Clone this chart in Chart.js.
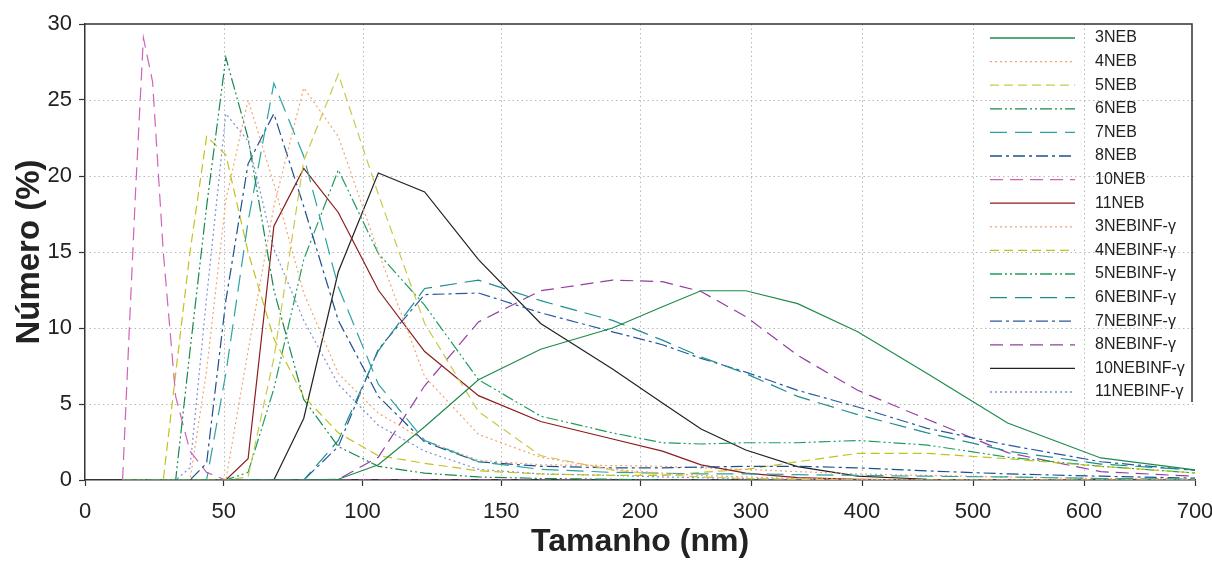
<!DOCTYPE html>
<html>
<head>
<meta charset="utf-8">
<script src="https://cdn.jsdelivr.net/npm/chart.js@4.4.0/dist/chart.umd.min.js"></script>
<style>
  html, body { margin: 0; padding: 0; background: #fff; }
  #wrap { width: 1212px; height: 563px; }
</style>
</head>
<body>
<div id="wrap"><canvas id="chart"></canvas></div>
<script>
// tamanhos das classes (nm)
const sizes = [13.54, 15.69, 18.17, 21.04, 24.36, 28.21, 32.67, 37.84, 43.82, 50.75, 58.77, 68.06, 78.82, 91.28,
  105.7, 122.4, 141.8, 164.2, 190.1, 220.2, 255.0, 295.3, 342.0, 396.1, 458.7, 531.2, 615.1, 712.4];

const neb3  = [0,0,0,0,0,0,0,0,0,0,0,0,0,0.05, 1.0,3.5,6.6,8.6,10.0,11.4,12.45,12.45,11.6,9.75,7.0,3.75,1.45,0.55];
const neb4  = [0,0,0,0,0,0,0,0,0,0, 8.5,18,25.8,22.6,15,6.8,3.0,1.5,0.7,0.45,0.3,0.2,0.1,0.05,0,0,0,0];
const neb5  = [0,0,0,0,0,0,0,0,0,0, 0.2,8,21,26.7,18.8,10.3,4.5,1.6,0.65,0.35,0.2,0.1,0.05,0,0,0,0,0];
const neb6  = [0,0,0,0,0,0,0, 8.5,18,27.8,22.5,12.5,5.3,2.2,0.9,0.45,0.2,0.1,0.05,0,0,0,0,0,0,0,0,0];
const neb7  = [0,0,0,0,0,0,0,0,0, 7,17,26.1,21.3,12.7,6.3,2.6,1.2,0.7,0.5,0.45,0.4,0.4,0.35,0.3,0.25,0.2,0.1,0.05];
const neb8  = [0,0,0,0,0,0,0,0, 1.1,11.8,20.8,24.1,18,10.5,5.5,2.5,1.2,0.9,0.8,0.8,0.85,0.9,0.9,0.8,0.6,0.4,0.25,0.1];
const neb10 = [0, 8.8,18.8,29.1,26.2,15,5.5,1.9,0.5,0,0,0,0,0,0,0,0,0,0,0,0,0,0,0,0,0,0,0];
const neb11 = [0,0,0,0,0,0,0,0,0,0, 1.4,16.7,20.5,17.6,12.5,8.45,5.55,3.85,2.7,1.9,1.0,0.45,0.15,0.05,0,0,0,0];
const inf3  = [0,0,0,0,0,0,0,0, 7.2,18.4,25,19.5,12.3,7.0,4.4,2.6,1.3,1.0,0.95,0.9,0.8,0.7,0.55,0.4,0.3,0.2,0.1,0.05];
const inf4  = [0,0,0,0,0,0, 7,15,22.6,21.4,15,9.3,5.5,3.1,1.6,1.1,0.6,0.4,0.3,0.3,0.5,0.7,1.2,1.75,1.75,1.4,0.9,0.4];
const inf5  = [0,0,0,0,0,0,0,0,0,0, 0.5,6,14.5,20.4,14.9,11.5,6.6,4.2,3.1,2.45,2.37,2.45,2.45,2.6,2.3,1.5,0.9,0.4];
const inf6  = [0,0,0,0,0,0,0,0,0,0,0,0,0, 2.6,8.5,12.6,13.15,11.8,10.5,9.2,8.1,7.0,5.5,4.3,3.1,1.9,1.05,0.6];
const inf7  = [0,0,0,0,0,0,0,0,0,0,0,0,0, 2.2,8.6,12.2,12.3,11.0,9.75,8.9,8.0,7.1,5.9,4.8,3.4,2.3,1.2,0.55];
const inf8  = [0,0,0,0,0,0,0,0,0,0,0,0,0, 0.05,1.5,6.2,10.4,12.45,13.15,13.05,12.4,10.75,8.2,5.9,4.0,1.8,0.55,0.2];
const inf10 = [0,0,0,0,0,0,0,0,0,0,0,0, 4.05,13.7,20.2,18.95,14.5,10.3,7.3,5.07,3.35,1.97,0.88,0.26,0.05,0,0,0];
const inf11 = [0,0,0,0,0,0,0, 0.8,12,24.1,22.3,15.2,10.5,6.3,3.6,1.9,0.7,0.4,0.3,0.2,0.15,0.1,0.05,0,0,0,0,0];

const labels = ['3NEB','4NEB','5NEB','6NEB','7NEB','8NEB','10NEB','11NEB',
  '3NEBINF-γ','4NEBINF-γ','5NEBINF-γ','6NEBINF-γ','7NEBINF-γ','8NEBINF-γ','10NEBINF-γ','11NEBINF-γ'];
const values = [neb3, neb4, neb5, neb6, neb7, neb8, neb10, neb11, inf3, inf4, inf5, inf6, inf7, inf8, inf10, inf11];

const xTicks = [0, 50, 100, 150, 200, 300, 400, 500, 600, 700];
const yTicks = [0, 5, 10, 15, 20, 25, 30];

// estilos de linha
const colors = ['#1e8b4c','#f5a36c','#c9c94a','#17894d','#2ba3a3','#1f4f8f','#d062b8','#8b1c1c',
  '#f5a36c','#c2c21e','#1f9d5c','#1d8e8e','#2a58a0','#913fa0','#222222','#7d8fd8'];
const dashes = [[], [2,3], [9,5], [12,3,2,3,2,3], [17,8], [12,4,3,4], [13,7], [],
  [2,3], [9,5], [12,3,2,3,2,3], [17,8], [12,4,3,4], [13,7], [], [2,3]];

// eixo x: 0-200 na primeira metade, 200-700 na segunda
function splitFrac(v) {
  return v <= 200 ? v / 400 : 0.5 + (v - 200) / 1000;
}

class SplitScale extends Chart.LinearScale {
  buildTicks() {
    this.start = this.min;
    this.end = this.max;
    return xTicks.map(v => ({ value: v }));
  }
  getPixelForValue(value) {
    if (value === null || isNaN(value)) return NaN;
    return this.getPixelForDecimal(splitFrac(value));
  }
  getValueForPixel(pixel) {
    const d = this.getDecimalForPixel(pixel);
    return d <= 0.5 ? d * 400 : 200 + (d - 0.5) * 1000;
  }
}
SplitScale.id = 'split';
SplitScale.defaults = Chart.LinearScale.defaults;
Chart.register(SplitScale);

const font = "'Liberation Sans', Arial, sans-serif";

const datasets = labels.map((name, i) => ({
  label: name,
  data: sizes.map((s, j) => ({ x: s, y: values[i][j] })),
  borderColor: colors[i],
  borderDash: dashes[i],
  borderWidth: 1.2,
  pointRadius: 0,
  tension: 0,
  fill: false
}));

// grade pontilhada, moldura e legenda
const framePlugin = {
  id: 'frame',
  beforeDatasetsDraw(chart) {
    const { ctx, chartArea: a, scales } = chart;
    ctx.save();
    ctx.strokeStyle = '#b8b8b8';
    ctx.lineWidth = 1;
    ctx.setLineDash([1.5, 3]);
    yTicks.slice(1, -1).forEach(v => {
      const y = Math.round(scales.y.getPixelForValue(v)) + 0.5;
      ctx.beginPath(); ctx.moveTo(a.left, y); ctx.lineTo(a.right, y); ctx.stroke();
    });
    xTicks.slice(1, -1).forEach(v => {
      const x = Math.round(scales.x.getPixelForValue(v)) + 0.5;
      ctx.beginPath(); ctx.moveTo(x, a.top); ctx.lineTo(x, a.bottom); ctx.stroke();
    });
    ctx.restore();
  },
  afterDraw(chart) {
    const { ctx, chartArea: a } = chart;
    ctx.save();
    ctx.strokeStyle = '#333';
    ctx.lineWidth = 1.5;
    ctx.setLineDash([]);
    const rx = a.right - 3;
    ctx.beginPath();
    ctx.moveTo(a.left, a.top); ctx.lineTo(rx, a.top); ctx.lineTo(rx, 402);
    ctx.stroke();

    ctx.font = '16px ' + font;
    ctx.textBaseline = 'middle';
    ctx.fillStyle = '#222';
    labels.forEach((name, i) => {
      const y = 38 + i * 23.6;
      ctx.strokeStyle = colors[i];
      ctx.lineWidth = 1.3;
      ctx.setLineDash(dashes[i]);
      ctx.beginPath(); ctx.moveTo(990, y); ctx.lineTo(1075, y); ctx.stroke();
      ctx.fillText(name, 1095, y);
    });
    ctx.restore();
  }
};

new Chart(document.getElementById('chart'), {
  type: 'line',
  data: { datasets: datasets },
  options: {
    responsive: true,
    maintainAspectRatio: false,
    animation: false,
    layout: { padding: { top: 24, right: 0, left: 0, bottom: 0 } },
    plugins: { legend: { display: false }, tooltip: { enabled: false } },
    scales: {
      x: {
        type: 'split',
        min: 0,
        max: 700,
        grid: { drawOnChartArea: false, tickLength: 6, tickColor: '#333', tickWidth: 1.2 },
        border: { color: '#333', width: 1.5 },
        ticks: { autoSkip: false, maxRotation: 0, padding: 13, color: '#222', font: { family: font, size: 22 },
          callback: v => String(v) },
        title: { display: true, text: 'Tamanho (nm)', color: '#222', padding: { top: 0, bottom: 2 },
          font: { family: font, size: 32, weight: 'bold' } },
        afterFit(scale) {
          scale.height = 83;
          scale.paddingRight = 17;
          scale.paddingLeft = 0;
        }
      },
      y: {
        min: 0,
        max: 30,
        grid: { drawOnChartArea: false, tickLength: 6, tickColor: '#333', tickWidth: 1.2 },
        border: { color: '#333', width: 1.5 },
        afterBuildTicks(scale) { scale.ticks = yTicks.map(v => ({ value: v })); },
        ticks: { padding: 7, color: '#222', font: { family: font, size: 22 } },
        title: { display: true, text: 'Número (%)', color: '#222', padding: { top: 10, bottom: 0 },
          font: { family: font, size: 33, weight: 'bold' } },
        afterFit(scale) { scale.width = 85; }
      }
    }
  },
  plugins: [framePlugin]
});
</script>
</body>
</html>
